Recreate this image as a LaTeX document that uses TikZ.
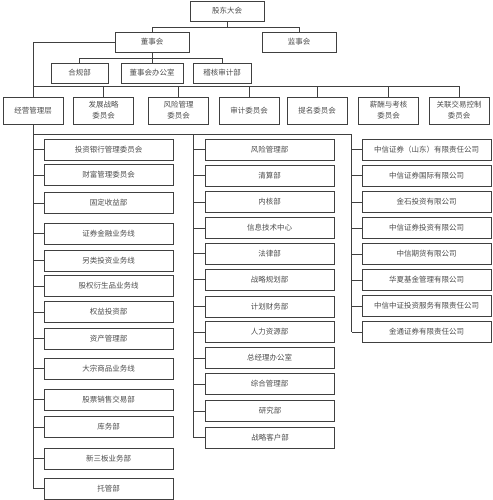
\documentclass[tikz,border=0pt]{standalone}
\usepackage{fontspec}
\newfontfamily\cjk{Noto Sans CJK SC}
\usetikzlibrary{calc}

\begin{document}
\begin{tikzpicture}[x=1pt, y=-1pt, font=\cjk\fontsize{7.5}{11}\selectfont,
    box/.style={draw=black!75, line width=0.8pt, inner sep=0pt, minimum height=20pt, text=black!70, align=center},
    comm/.style={box, minimum width=60pt, minimum height=27pt},
    col/.style={box, minimum width=129pt, minimum height=21pt},
    wire/.style={draw=black!75, line width=0.7pt}]

    \useasboundingbox (0,0) rectangle (492,500);

    % 1. Top of the tree
    \node[box, minimum width=74pt] (gudong) at (227,11) {股东大会};
    \node[box, minimum width=74pt] (board) at (152,42) {董事会};
    \node[box, minimum width=74pt] (super) at (299,42) {监事会};
    \node[box, minimum width=57pt] (comply) at (79.5,73) {合规部};
    \node[box, minimum width=62pt] (office) at (152,73) {董事会办公室};
    \node[box, minimum width=58pt] (audit) at (222,73) {稽核审计部};

    % 2. Committees and the management level
    \node[comm] (mgmt) at (33,110.5) {经营管理层};
    \node[comm] (devcom) at (103.5,110.5) {发展战略\\委员会};
    \node[comm] (riskcom) at (178.5,110.5) {风险管理\\委员会};
    \node[comm] (auditcom) at (249,110.5) {审计委员会};
    \node[comm] (nomcom) at (317,110.5) {提名委员会};
    \node[comm] (paycom) at (388.5,110.5) {薪酬与考核\\委员会};
    \node[comm] (relcom) at (459,110.5) {关联交易控制\\委员会};

    % 3. Left column: business lines
    \node[col] (ibank) at (108.5,149.5) {投资银行管理委员会};
    \node[col] (wealth) at (108.5,175) {财富管理委员会};
    \node[col] (fixed) at (108.5,203) {固定收益部};
    \node[col] (secfin) at (108.5,233.5) {证券金融业务线};
    \node[col] (altinv) at (108.5,260.5) {另类投资业务线};
    \node[col] (eqder) at (108.5,286) {股权衍生品业务线};
    \node[col] (eqinv) at (108.5,312) {权益投资部};
    \node[col] (asset) at (108.5,338.5) {资产管理部};
    \node[col] (commod) at (108.5,368.5) {大宗商品业务线};
    \node[col] (stock) at (108.5,399.5) {股票销售交易部};
    \node[col] (treas) at (108.5,427) {库务部};
    \node[col] (neeq) at (108.5,458.5) {新三板业务部};
    \node[col] (custody) at (108.5,488.5) {托管部};

    % 4. Middle column: support departments
    \node[col] (risk) at (269.5,149.5) {风险管理部};
    \node[col] (clear) at (269.5,175.5) {清算部};
    \node[col] (review) at (269.5,202) {内核部};
    \node[col] (infotech) at (269.5,228) {信息技术中心};
    \node[col] (legal) at (269.5,253.5) {法律部};
    \node[col] (strat) at (269.5,279.5) {战略规划部};
    \node[col] (finance) at (269.5,306.5) {计划财务部};
    \node[col] (hr) at (269.5,332) {人力资源部};
    \node[col] (ceo) at (269.5,358) {总经理办公室};
    \node[col] (admin) at (269.5,384) {综合管理部};
    \node[col] (research) at (270,411) {研究部};
    \node[col] (client) at (270,437.5) {战略客户部};

    % 5. Right column: subsidiaries
    \node[col] (sd) at (426.5,149.5) {中信证券（山东）有限责任公司};
    \node[col] (intl) at (426.5,175.5) {中信证券国际有限公司};
    \node[col] (gold) at (426.5,202) {金石投资有限公司};
    \node[col] (invest) at (426.5,228) {中信证券投资有限公司};
    \node[col] (futures) at (426.5,254) {中信期货有限公司};
    \node[col] (huaxia) at (426.5,280) {华夏基金管理有限公司};
    \node[col] (csi) at (426.5,306) {中信中证投资服务有限责任公司};
    \node[col] (jintong) at (426.5,332) {金通证券有限责任公司};

    % 6. Connectors at the top
    \draw[wire] (gudong.south) -- ++(0,6) coordinate (t1);
    \draw[wire] (board.north) |- (t1) -| (super.north);
    \draw[wire] (board.south) -- (office.north);
    \coordinate (t2) at ($(board.south)+(0,6)$);
    \draw[wire] (comply.north) |- (t2) -| (audit.north);
    \draw[wire] (board.west) -| (mgmt.north);
    \coordinate (t3) at ($(mgmt.north)+(0,-10)$);
    \draw[wire] (t3) -| (relcom.north)
        (t3 -| devcom.north) -- (devcom.north)
        (t3 -| riskcom.north) -- (riskcom.north)
        (t3 -| auditcom.north) -- (auditcom.north)
        (t3 -| nomcom.north) -- (nomcom.north)
        (t3 -| paycom.north) -- (paycom.north);

    % 7. Trunks below the management level
    \coordinate (t4) at ($(mgmt.south)+(0,10)$);
    \coordinate (lbus) at (mgmt.south |- custody.west);
    \coordinate (mbus) at ($(client.west)+(-12,0)$);
    \coordinate (rbus) at ($(jintong.west)+(-10,0)$);
    \draw[wire] (mgmt.south) -- (lbus);
    \draw[wire] (t4) -| (rbus);
    \draw[wire] (mbus |- t4) -- (mbus);

    % 8. Branches into the columns
    \draw[wire] (ibank.west) -- (ibank.west -| lbus) (wealth.west) -- (wealth.west -| lbus)
        (fixed.west) -- (fixed.west -| lbus) (secfin.west) -- (secfin.west -| lbus)
        (altinv.west) -- (altinv.west -| lbus) (eqder.west) -- (eqder.west -| lbus)
        (eqinv.west) -- (eqinv.west -| lbus) (asset.west) -- (asset.west -| lbus)
        (commod.west) -- (commod.west -| lbus) (stock.west) -- (stock.west -| lbus)
        (treas.west) -- (treas.west -| lbus) (neeq.west) -- (neeq.west -| lbus)
        (custody.west) -- (lbus);
    \draw[wire] (risk.west) -- (risk.west -| mbus) (clear.west) -- (clear.west -| mbus)
        (review.west) -- (review.west -| mbus) (infotech.west) -- (infotech.west -| mbus)
        (legal.west) -- (legal.west -| mbus) (strat.west) -- (strat.west -| mbus)
        (finance.west) -- (finance.west -| mbus) (hr.west) -- (hr.west -| mbus)
        (ceo.west) -- (ceo.west -| mbus) (admin.west) -- (admin.west -| mbus)
        (research.west) -- (research.west -| mbus) (client.west) -- (mbus);
    \draw[wire] (sd.west) -- (sd.west -| rbus) (intl.west) -- (intl.west -| rbus)
        (gold.west) -- (gold.west -| rbus) (invest.west) -- (invest.west -| rbus)
        (futures.west) -- (futures.west -| rbus) (huaxia.west) -- (huaxia.west -| rbus)
        (csi.west) -- (csi.west -| rbus) (jintong.west) -- (rbus);

\end{tikzpicture}
\end{document}
